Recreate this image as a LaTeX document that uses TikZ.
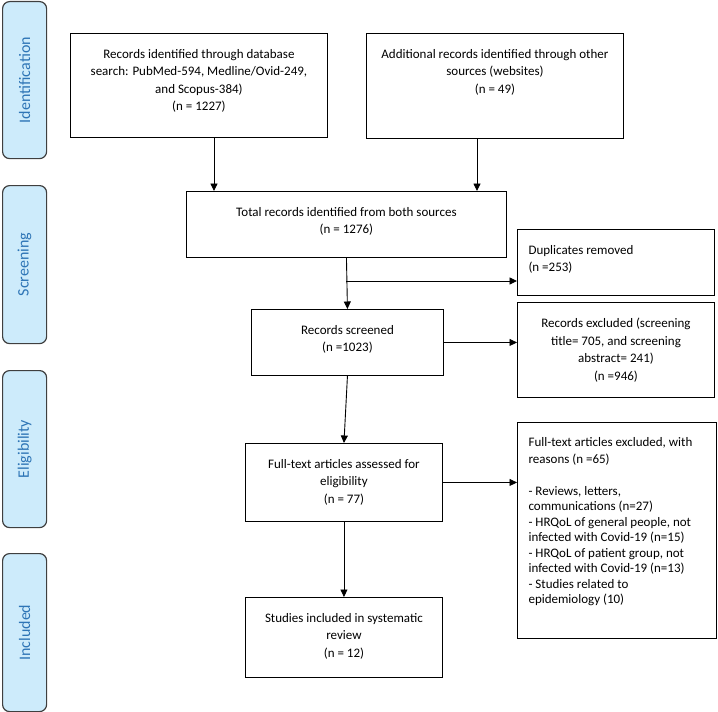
\documentclass[tikz,border=0pt]{standalone}
\usepackage{fontspec}
\setmainfont{Carlito}
\usetikzlibrary{arrows.meta}
\definecolor{phasefill}{HTML}{CDEBFB}
\definecolor{phasetext}{HTML}{2E75B6}
\definecolor{phaseline}{HTML}{3F3F3F}
\tikzset{
  phase/.style={draw=phaseline, line width=1.2pt, fill=phasefill, rounded corners=7pt,
    minimum width=44pt, anchor=north west, inner sep=0pt, text=phasetext,
    font=\fontsize{16}{19}\selectfont},
  box/.style={draw, line width=0.9pt, anchor=north west, inner sep=0pt},
  txt/.style={anchor=north, align=center, yshift=-12.5pt, font=\fontsize{13}{17.5}\selectfont},
  txtl/.style={anchor=north west, align=left, yshift=-12.5pt, xshift=8pt, font=\fontsize{13}{17.5}\selectfont},
  arr/.style={-{Triangle[length=7.5pt,width=7pt]}, line width=0.9pt}
}
\begin{document}
\begin{tikzpicture}[x=1pt,y=-1pt]
    \useasboundingbox (0,0) rectangle (718,712);
    \node[phase, minimum height=157pt] (ident) at (2,1) {\rotatebox{90}{Identification}};
    \node[phase, minimum height=158pt] (screen) at (2,185) {\rotatebox{90}{Screening}};
    \node[phase, minimum height=157pt] (elig) at (2,370) {\rotatebox{90}{Eligibility}};
    \node[phase, minimum height=158pt] (inclp) at (2,553) {\rotatebox{90}{Included}};
    \node[box, minimum width=257pt, minimum height=104pt,
      label={[txt]north:{Records identified through database\\search: PubMed-594, Medline/Ovid-249,\\and Scopus-384)\\(n = 1227)}}] (db) at (70,33) {};
    \node[box, minimum width=257pt, minimum height=105pt,
      label={[txt]north:{Additional records identified through other\\sources (websites)\\(n = 49)}}] (other) at (366,33) {};
    \node[box, minimum width=320pt, minimum height=66pt,
      label={[txt]north:{Total records identified from both sources\\(n = 1276)}}] (total) at (186,191) {};
    \node[box, minimum width=197pt, minimum height=66pt,
      label={[txtl]north west:{Duplicates removed\\(n =253)}}] (dup) at (517,229) {};
    \node[box, minimum width=192pt, minimum height=66pt,
      label={[txt]north:{Records screened\\(n =1023)}}] (screened) at (251,309) {};
    \node[box, minimum width=197pt, minimum height=95pt,
      label={[txt]north:{Records excluded (screening\\title= 705, and screening\\abstract= 241)\\(n =946)}}] (excl) at (517,302) {};
    \node[box, minimum width=197pt, minimum height=78pt,
      label={[txt]north:{Full-text articles assessed for\\eligibility\\(n = 77)}}] (full) at (245,443) {};
    \node[box, minimum width=199pt, minimum height=216pt,
      label={[txtl, yshift=1pt, font=\fontsize{13}{15.5}\selectfont]north west:{Full-text articles excluded, with\\[2.2pt]reasons (n =65)\\[15.8pt]- Reviews, letters,\\communications (n=27)\\- HRQoL of general people, not\\infected with Covid-19 (n=15)\\- HRQoL of patient group, not\\infected with Covid-19 (n=13)\\- Studies related to\\epidemiology (10)}}] (ftex) at (517,422) {};
    \node[box, minimum width=197pt, minimum height=80pt,
      label={[txt]north:{Studies included in systematic\\review\\(n = 12)}}] (incl) at (245,597) {};
    \coordinate (xa) at (214,0);
    \coordinate (xb) at (477,0);
    \coordinate (split) at (0,281);
    \draw[arr] (db.south -| xa) -- (total.north -| xa);
    \draw[arr] (other.south -| xb) -- (total.north -| xb);
    \draw[arr] (total.south) -- (screened.north);
    \draw[arr] (total.south |- split) -- (dup.west |- split);
    \draw[arr] (screened.east) -- (screened.east -| excl.west);
    \draw[arr] (screened.south) -- (full.north);
    \draw[arr] (full.east) -- (full.east -| ftex.west);
    \draw[arr] (full.south) -- (incl.north);
\end{tikzpicture}
\end{document}
